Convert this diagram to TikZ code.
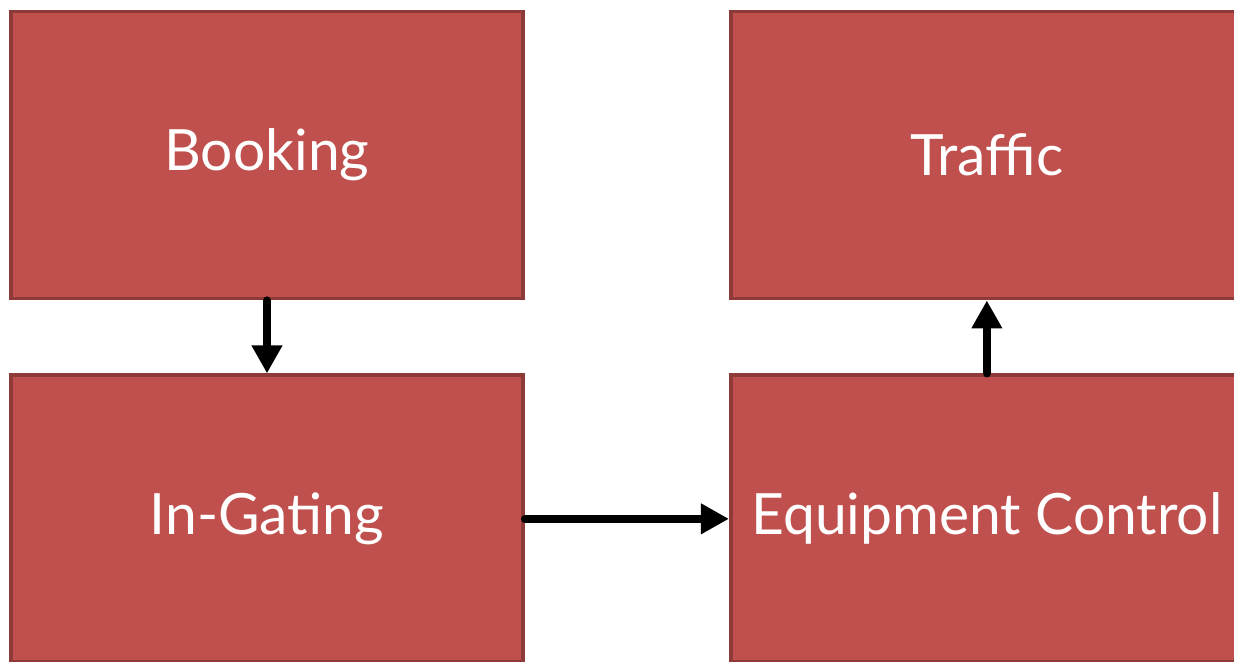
\documentclass[tikz,border=0pt]{standalone}
\usepackage{fontspec}
\setmainfont{Lato}
\usepackage{tikz}
\usetikzlibrary{positioning,arrows.meta}
\usepackage{xcolor}
\definecolor{stage}{RGB}{192,80,77}
\definecolor{stageedge}{RGB}{142,58,56}

\begin{document}
\begin{tikzpicture}[
  stagebox/.style={draw=stageedge,fill=stage,line width=1.1pt,
    minimum width=5.12cm,minimum height=2.87cm,inner sep=0pt,
    text=white,font=\fontsize{16.2}{19}\selectfont},
  flow/.style={line width=2.3pt,line cap=round,
    -{Triangle[length=0.28cm,width=0.29cm]}}
]
\useasboundingbox (0,0) rectangle (12.34,-6.62);
% terminal process stages
\node[stagebox] (booking) at (2.67,-1.55) {Booking};
\node[stagebox,below=0.73cm of booking] (ingate) {In-Gating};
\node[stagebox,right=2.04cm of booking] (traffic) {Traffic};
\node[stagebox,below=0.73cm of traffic] (equip) {Equipment Control};
% hand-offs between stages
\draw[flow] (booking.south) -- (ingate.north);
\draw[flow] (ingate.east) -- (equip.west);
\draw[flow] (equip.north) -- (traffic.south);
\end{tikzpicture}
\end{document}
